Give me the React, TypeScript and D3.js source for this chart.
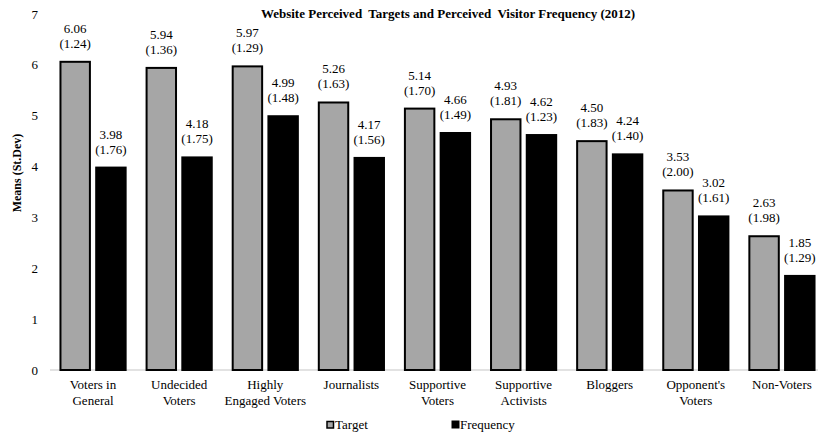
import React from "react";
import * as d3 from "d3";

const categories: string[][] = [
  ["Voters in", "General"],
  ["Undecided", "Voters"],
  ["Highly", "Engaged Voters"],
  ["Journalists"],
  ["Supportive", "Voters"],
  ["Supportive", "Activists"],
  ["Bloggers"],
  ["Opponent's", "Voters"],
  ["Non-Voters"],
];
const targetMeans = [6.06, 5.94, 5.97, 5.26, 5.14, 4.93, 4.5, 3.53, 2.63];
const targetSD = [1.24, 1.36, 1.29, 1.63, 1.7, 1.81, 1.83, 2.0, 1.98];
const freqMeans = [3.98, 4.18, 4.99, 4.17, 4.66, 4.62, 4.24, 3.02, 1.85];
const freqSD = [1.76, 1.75, 1.48, 1.56, 1.49, 1.23, 1.4, 1.61, 1.29];
const seriesNames = ["Target", "Frequency"];
const seriesColors = ["#a6a6a6", "#000000"];
const yTicks = [0, 1, 2, 3, 4, 5, 6, 7];

const W = 818;
const H = 435;
const FONT = "'Liberation Serif', 'Times New Roman', serif";

export default function App() {
  const keys = categories.map((c) => c.join(" "));
  const x0 = d3
    .scaleBand<string>()
    .domain(keys)
    .range([50, 825])
    .paddingInner(0.22)
    .paddingOuter(0.11);
  const x1 = d3
    .scaleBand<string>()
    .domain(seriesNames)
    .range([0, x0.bandwidth()])
    .paddingInner(0.12);
  const y = d3.scaleLinear().domain([0, 7]).range([370, 14]);

  const series = [
    { name: seriesNames[0], means: targetMeans, sds: targetSD, color: seriesColors[0] },
    { name: seriesNames[1], means: freqMeans, sds: freqSD, color: seriesColors[1] },
  ];

  return (
    <svg
      width={W}
      height={H}
      style={{ position: "absolute", left: 0, top: 0, background: "#fff" }}
      fontFamily={FONT}
    >
      <text
        x={448}
        y={18}
        textAnchor="middle"
        fontSize={13}
        fontWeight="bold"
        style={{ whiteSpace: "pre" }}
      >
        {"Website Perceived  Targets and Perceived  Visitor Frequency (2012)"}
      </text>
      <text
        transform={`translate(21, 173) rotate(-90)`}
        textAnchor="middle"
        fontSize={12}
        fontWeight="bold"
      >
        Means (St.Dev)
      </text>
      {yTicks.map((t) => (
        <text key={t} x={38} y={y(t) + 4.5} textAnchor="end" fontSize={13}>
          {t}
        </text>
      ))}
      <line x1={50} x2={818} y1={y(0)} y2={y(0)} stroke="#d9d9d9" strokeWidth={1.5} />
      {keys.map((k, i) => (
        <g key={k} transform={`translate(${x0(k)},0)`}>
          {series.map((s) => {
            const bx = x1(s.name)!;
            const bw = x1.bandwidth();
            const top = y(s.means[i]);
            return (
              <g key={s.name}>
                <rect
                  x={bx + 1}
                  y={top}
                  width={bw - 2}
                  height={y(0) - top}
                  fill={s.color}
                  stroke="#000"
                  strokeWidth={2}
                />
                <text x={bx + bw / 2} y={top - 29} textAnchor="middle" fontSize={13}>
                  {s.means[i].toFixed(2)}
                </text>
                <text x={bx + bw / 2} y={top - 14} textAnchor="middle" fontSize={13}>
                  ({s.sds[i].toFixed(2)})
                </text>
              </g>
            );
          })}
          {categories[i].map((line, j) => (
            <text
              key={j}
              x={x0.bandwidth() / 2}
              y={389 + j * 15.5}
              textAnchor="middle"
              fontSize={13}
            >
              {line}
            </text>
          ))}
        </g>
      ))}
      <g>
        <rect x={327} y={421.5} width={6.5} height={6.5} fill={seriesColors[0]} stroke="#000" strokeWidth={1.5} />
        <text x={335} y={429} fontSize={13}>{seriesNames[0]}</text>
        <rect x={452} y={421} width={7} height={7} fill={seriesColors[1]} stroke="#000" strokeWidth={1} />
        <text x={460} y={429} fontSize={13}>{seriesNames[1]}</text>
      </g>
    </svg>
  );
}
